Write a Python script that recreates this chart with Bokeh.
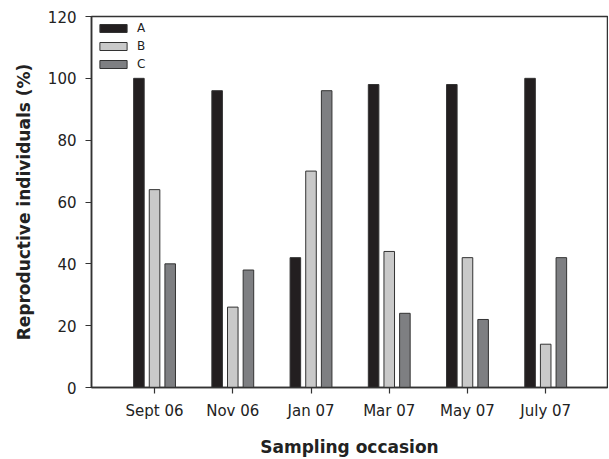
from bokeh.plotting import figure
from bokeh.models import Range1d, FixedTicker, Legend, LegendItem
from bokeh.embed import file_html
from bokeh.resources import INLINE

categories = ["Sept 06", "Nov 06", "Jan 07", "Mar 07", "May 07", "July 07"]
series_a = [100, 96, 42, 98, 98, 100]
series_b = [64, 26, 70, 44, 42, 14]
series_c = [40, 38, 96, 24, 22, 42]
y_ticks = [0, 20, 40, 60, 80, 100, 120]

FONT = "DejaVu Sans"

p = figure(width=608, height=459, output_backend="svg", toolbar_location=None,
           x_range=Range1d(-0.806, 5.79), y_range=Range1d(0, 120),
           min_border_left=91, min_border_top=16, min_border_bottom=72, min_border_right=1)
p.xgrid.visible = False
p.ygrid.visible = False
p.outline_line_color = "#333333"
p.outline_line_width = 1.5
p.background_fill_color = "white"

xs = list(range(len(categories)))
w = 0.135
ra = p.vbar(x=[x - 0.2 for x in xs], top=series_a, width=w, bottom=0,
            fill_color="#231f20", line_color="#333333", line_width=1)
rb = p.vbar(x=xs, top=series_b, width=w, bottom=0,
            fill_color="#c9c9c9", line_color="#333333", line_width=1)
rc = p.vbar(x=[x + 0.2 for x in xs], top=series_c, width=w, bottom=0,
            fill_color="#7e7f82", line_color="#333333", line_width=1)

legend = Legend(items=[LegendItem(label="A", renderers=[ra]),
                       LegendItem(label="B", renderers=[rb]),
                       LegendItem(label="C", renderers=[rc])],
                location="top_left", margin=5, padding=0, spacing=4,
                glyph_width=34, glyph_height=10, label_height=10,
                label_standoff=7, label_text_font=FONT, label_text_font_size="12px",
                label_text_color="#222222", border_line_color=None,
                background_fill_alpha=0)
p.add_layout(legend)

p.xaxis.ticker = FixedTicker(ticks=xs)
p.xaxis.major_label_overrides = {i: c for i, c in enumerate(categories)}
p.yaxis.ticker = FixedTicker(ticks=y_ticks)

for ax in (p.xaxis, p.yaxis):
    ax.axis_line_color = "#333333"
    ax.axis_line_width = 1.5
    ax.major_tick_line_color = "#333333"
    ax.major_tick_line_width = 1.2
    ax.major_tick_in = 0
    ax.major_tick_out = 6
    ax.minor_tick_line_color = None
    ax.major_label_text_font = FONT
    ax.major_label_text_font_size = "15px"
    ax.major_label_text_color = "#222222"
    ax.axis_label_text_font = FONT
    ax.axis_label_text_font_style = "bold"
    ax.axis_label_text_color = "#222222"
    ax.axis_label_text_font_size = "17px"

p.xaxis.major_label_standoff = 8
p.yaxis.major_label_standoff = 9
p.xaxis.axis_label = "Sampling occasion"
p.yaxis.axis_label = "Reproductive individuals (%)"
p.xaxis.axis_label_standoff = 14
p.yaxis.axis_label_standoff = 11

open("out.html", "w").write(file_html(p, INLINE))
